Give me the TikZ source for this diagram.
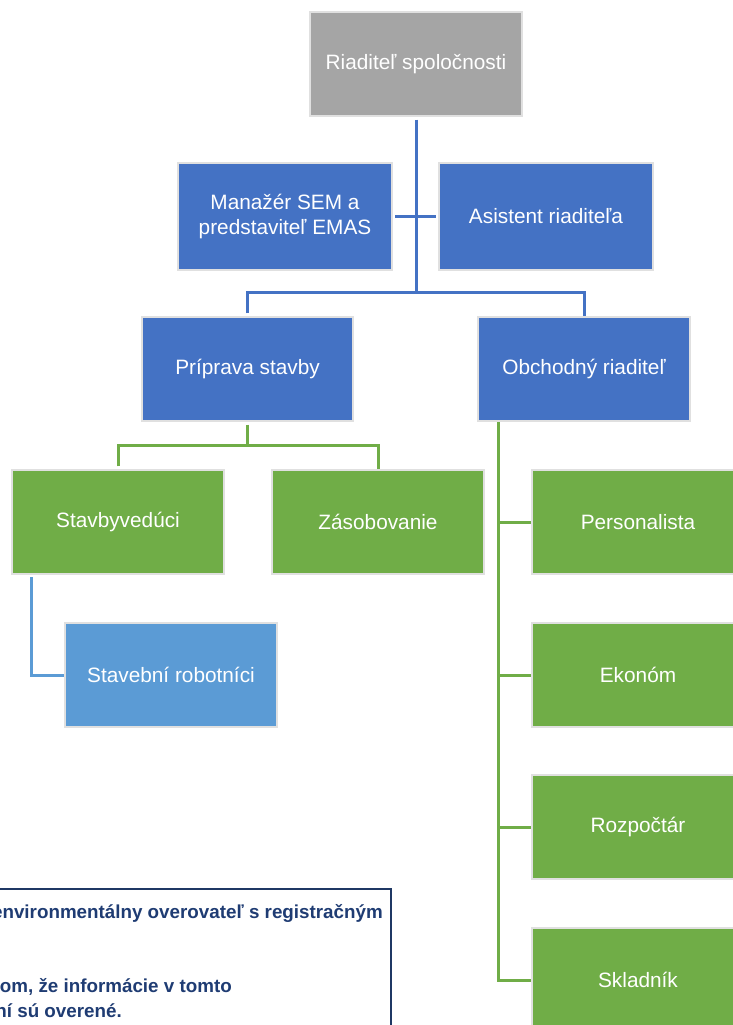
\documentclass[tikz,border=0pt]{standalone}
\usepackage{fontspec}
\setmainfont{Liberation Sans}
\definecolor{cblue}{HTML}{4472C4}
\definecolor{cgreen}{HTML}{70AD47}
\definecolor{clblue}{HTML}{5B9BD5}
\definecolor{cgray}{HTML}{A5A5A5}
\definecolor{cnavy}{HTML}{1F3864}
\definecolor{ctext}{HTML}{1F3C73}
\begin{document}
\begin{tikzpicture}[x=1pt,y=-1pt,
  box/.style={rectangle, draw=white!88!black, line width=1.2pt, text=white, align=center,
    minimum width=212pt, minimum height=104pt, inner sep=0pt,
    font=\fontsize{20.8}{24.5}\selectfont},
  bluebox/.style={box, fill=cblue},
  greenbox/.style={box, fill=cgreen},
  lbluebox/.style={box, fill=clblue},
  graybox/.style={box, fill=cgray},
  bline/.style={draw=cblue, line width=3pt},
  gline/.style={draw=cgreen, line width=3pt},
  lline/.style={draw=clblue, line width=3pt},
  notetext/.style={anchor=base east, inner sep=0pt, text=ctext, font=\bfseries\fontsize{18.8}{22}\selectfont}
]
\useasboundingbox (0,0) rectangle (732,1025);
% nodes
\node[graybox] (root) at (416,64) {Riaditeľ spoločnosti};
\node[bluebox, minimum width=214pt, minimum height=107pt, line width=2pt] (man) at (285,216.5) {Manažér SEM a\\predstaviteľ EMAS};
\node[bluebox, minimum width=214pt, minimum height=107pt, line width=2pt] (asi) at (546,216.5) {Asistent riaditeľa};
\node[bluebox, minimum width=211pt] (prip) at (247.5,369) {Príprava stavby};
\node[bluebox] (obch) at (584,369) {Obchodný riaditeľ};
\node[greenbox] (stav) at (118,522) {Stavbyvedúci};
\node[greenbox] (zas) at (378,522) {Zásobovanie};
\node[lbluebox] (rob) at (171,675) {Stavební robotníci};
\node[greenbox] (pers) at (638,522) {Personalista};
\node[greenbox] (eko) at (638,675) {Ekonóm};
\node[greenbox] (roz) at (638,827) {Rozpočtár};
\node[greenbox] (skl) at (638,980) {Skladník};
% junction coordinates
\coordinate (j1) at (416,292);
\coordinate (j2) at (248,445);
\coordinate (v) at (498,421);
\coordinate (r) at (31,574);
% blue connectors
\draw[bline, shorten <=3pt] (root.south) -- (root.south |- j1);
\draw[bline, shorten <=2pt, shorten >=2pt] (man.east) -- (asi.west);
\draw[bline, shorten <=3pt] (prip.north) |- (j1) -| (obch.north);
% green connectors
\draw[gline, shorten <=3pt] (prip.south) -- (prip.south |- j2);
\draw[gline, shorten <=3pt] (stav.north) |- (j2) -| (zas.north);
\draw[gline, shorten <=1pt] (v) |- (skl.west);
\draw[gline] (pers.west -| v) -- (pers.west);
\draw[gline] (eko.west -| v) -- (eko.west);
\draw[gline] (roz.west -| v) -- (roz.west);
% light blue connector
\draw[lline, shorten <=3pt] (r) |- (rob.west);
% bottom note (cut-off fragment)
\node[draw=cnavy, line width=2pt, fill=white, minimum width=420pt, minimum height=160pt, anchor=north east, inner sep=0pt] (note) at (392,888) {};
\node[notetext] (n1) at (383,918) {environmentálny overovateľ s registračným};
\node[notetext] (n2) at (232,992) {om, že informácie v tomto};
\node[notetext] (n3) at (122,1017) {ní sú overené.};
\end{tikzpicture}
\end{document}
